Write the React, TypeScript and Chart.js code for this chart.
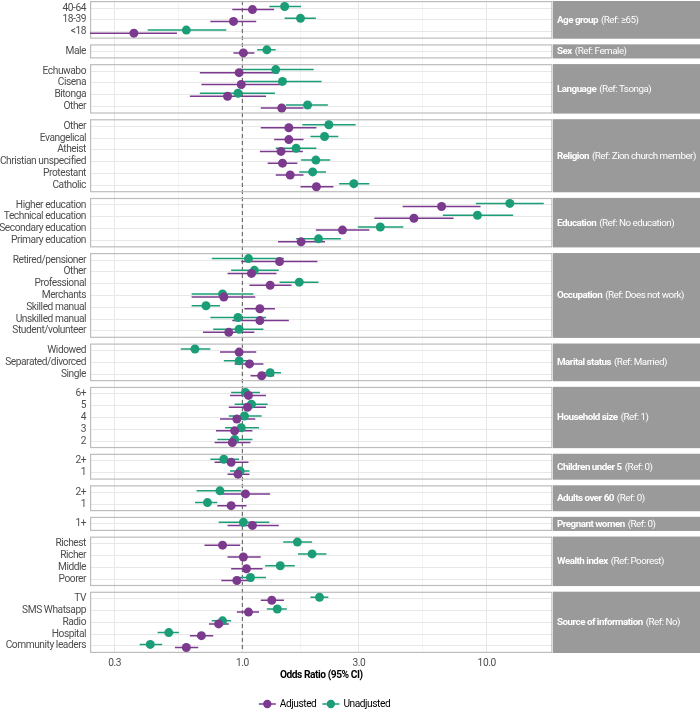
import React, { useEffect, useRef } from 'react';
import { Chart, registerables } from 'chart.js';

Chart.register(...registerables);

// ---------- data ----------
const groupNames = ['Age group', 'Sex', 'Language', 'Religion', 'Education', 'Occupation', 'Marital status', 'Household size', 'Children under 5', 'Adults over 60', 'Pregnant women', 'Wealth index', 'Source of information'];
const groupRefs = ['(Ref: ≥65)', '(Ref: Female)', '(Ref: Tsonga)', '(Ref: Zion church member)', '(Ref: No education)', '(Ref: Does not work)', '(Ref: Married)', '(Ref: 1)', '(Ref: 0)', '(Ref: 0)', '(Ref: 0)', '(Ref: Poorest)', '(Ref: No)'];
const groupSizes = [3, 1, 4, 6, 4, 7, 3, 5, 2, 2, 1, 4, 5];

const rowLabels = [
  '40-64', '18-39', '<18',
  'Male',
  'Echuwabo', 'Cisena', 'Bitonga', 'Other',
  'Other', 'Evangelical', 'Atheist', 'Christian unspecified', 'Protestant', 'Catholic',
  'Higher education', 'Technical education', 'Secondary education', 'Primary education',
  'Retired/pensioner', 'Other', 'Professional', 'Merchants', 'Skilled manual', 'Unskilled manual', 'Student/volunteer',
  'Widowed', 'Separated/divorced', 'Single',
  '6+', '5', '4', '3', '2',
  '2+', '1',
  '2+', '1',
  '1+',
  'Richest', 'Richer', 'Middle', 'Poorer',
  'TV', 'SMS Whatsapp', 'Radio', 'Hospital', 'Community leaders',
];

const adjOR = [1.10, 0.92, 0.36, 1.01, 0.97, 0.99, 0.87, 1.45, 1.55, 1.55, 1.44, 1.46, 1.57, 2.01, 6.54, 5.04, 2.57, 1.74, 1.42, 1.09, 1.30, 0.84, 1.18, 1.18, 0.88, 0.97, 1.07, 1.20, 1.06, 1.05, 0.95, 0.93, 0.91, 0.90, 0.96, 1.03, 0.90, 1.10, 0.83, 1.01, 1.04, 0.95, 1.32, 1.06, 0.80, 0.68, 0.59];
const adjLo = [0.91, 0.74, 0.20, 0.92, 0.67, 0.68, 0.61, 1.19, 1.19, 1.35, 1.18, 1.27, 1.37, 1.73, 4.53, 3.47, 2.00, 1.40, 0.99, 0.87, 1.07, 0.62, 1.02, 0.91, 0.69, 0.81, 0.93, 1.08, 0.89, 0.88, 0.81, 0.78, 0.77, 0.77, 0.87, 0.82, 0.79, 0.87, 0.70, 0.87, 0.90, 0.82, 1.19, 0.95, 0.73, 0.61, 0.53];
const adjHi = [1.35, 1.14, 0.54, 1.12, 1.41, 1.46, 1.25, 1.78, 2.01, 1.78, 1.77, 1.68, 1.78, 2.36, 9.44, 7.32, 3.31, 2.18, 2.03, 1.38, 1.59, 1.13, 1.36, 1.55, 1.12, 1.14, 1.22, 1.35, 1.25, 1.25, 1.13, 1.10, 1.08, 1.06, 1.07, 1.30, 1.04, 1.41, 0.98, 1.19, 1.21, 1.11, 1.48, 1.17, 0.88, 0.76, 0.66];

const unadjOR = [1.49, 1.73, 0.59, 1.26, 1.37, 1.46, 0.96, 1.85, 2.26, 2.17, 1.66, 2.00, 1.94, 2.86, 12.44, 9.17, 3.67, 2.05, 1.06, 1.12, 1.71, 0.83, 0.71, 0.96, 0.97, 0.64, 0.97, 1.30, 1.03, 1.09, 1.02, 0.99, 0.93, 0.84, 0.98, 0.81, 0.72, 1.01, 1.68, 1.93, 1.43, 1.08, 2.07, 1.39, 0.83, 0.50, 0.42];
const unadjLo = [1.29, 1.49, 0.41, 1.15, 0.98, 1.02, 0.67, 1.51, 1.76, 1.90, 1.37, 1.74, 1.71, 2.49, 9.03, 6.62, 2.97, 1.66, 0.75, 0.90, 1.42, 0.62, 0.62, 0.74, 0.76, 0.56, 0.84, 1.17, 0.90, 0.93, 0.88, 0.85, 0.79, 0.74, 0.89, 0.65, 0.64, 0.80, 1.47, 1.69, 1.24, 0.93, 1.90, 1.26, 0.75, 0.45, 0.38];
const unadjHi = [1.74, 2.00, 0.86, 1.37, 1.96, 2.11, 1.36, 2.24, 2.91, 2.47, 2.01, 2.29, 2.20, 3.31, 17.13, 12.84, 4.56, 2.53, 1.48, 1.41, 2.05, 1.11, 0.81, 1.25, 1.22, 0.74, 1.10, 1.44, 1.18, 1.27, 1.20, 1.17, 1.10, 0.97, 1.07, 0.99, 0.79, 1.29, 1.93, 2.21, 1.64, 1.25, 2.25, 1.52, 0.90, 0.55, 0.47];

const majorTicks = [0.3, 1, 3, 10];
const minorTicks = [0.5477, 1.7321, 5.4772];
const seriesNames = ['Adjusted', 'Unadjusted'];

// ---------- style ----------
const PURPLE = '#7B3A8E';
const GREEN = '#1B9E77';
const FS = 10.2;
const LS = '-0.45px';
const STRIP_FS = 9.8;
const STRIP_LS = '-0.5px';
const FONT = 'Roboto';

// ---------- facet layout (in row units) ----------
const EXP = 0.6;
const GAP = 0.475;
const DODGE = 0.13;
const panelTop: number[] = [];
const panelBottom: number[] = [];
const rowPos: number[] = [];
let cursor = 0;
groupSizes.forEach((n) => {
  panelTop.push(cursor);
  for (let i = 0; i < n; i++) rowPos.push(cursor + EXP + i);
  const b = cursor + (n - 1) + 2 * EXP;
  panelBottom.push(b);
  cursor = b + GAP;
});
const yMax = cursor - GAP;

function ciData(lo: number[], hi: number[], off: number) {
  const out: { x: number; y: number }[] = [];
  lo.forEach((l, i) => {
    out.push({ x: l, y: rowPos[i] + off });
    out.push({ x: hi[i], y: rowPos[i] + off });
    out.push({ x: NaN, y: NaN });
  });
  return out;
}
function ptData(v: number[], off: number) {
  return v.map((x, i) => ({ x, y: rowPos[i] + off }));
}

const forestPlugin = {
  id: 'forest',
  beforeLayout(chart: any) {
    chart.ctx.letterSpacing = LS;
  },
  beforeDraw(chart: any) {
    chart.ctx.letterSpacing = LS;
  },
  beforeDatasetsDraw(chart: any) {
    const { ctx, chartArea: ca, scales } = chart;
    const ys = scales.y;
    const xs = scales.x;
    ctx.save();
    // reference line
    const x1 = xs.getPixelForValue(1);
    ctx.strokeStyle = '#555555';
    ctx.lineWidth = 1;
    ctx.setLineDash([4, 3]);
    ctx.beginPath();
    ctx.moveTo(x1, ca.top);
    ctx.lineTo(x1, ca.bottom);
    ctx.stroke();
    ctx.setLineDash([]);
    groupNames.forEach((name, g) => {
      const top = ys.getPixelForValue(panelTop[g]);
      const bot = ys.getPixelForValue(panelBottom[g]);
      ctx.strokeStyle = '#BDBDBD';
      ctx.lineWidth = 1.2;
      ctx.strokeRect(ca.left + 0.6, top + 0.6, ca.right - ca.left - 1.2, bot - top - 1.2);
      ctx.fillStyle = '#9A9A9A';
      ctx.fillRect(ca.right + 0.5, top, chart.width - ca.right - 0.5, bot - top);
      const cy = (top + bot) / 2 + 0.5;
      ctx.textBaseline = 'middle';
      ctx.textAlign = 'left';
      ctx.fillStyle = '#FFFFFF';
      ctx.letterSpacing = STRIP_LS;
      ctx.font = `bold ${STRIP_FS}px ${FONT}`;
      const sx = ca.right + 4.5;
      ctx.fillText(name, sx, cy);
      const w = ctx.measureText(name).width;
      ctx.font = `${STRIP_FS}px ${FONT}`;
      ctx.fillText(groupRefs[g], sx + w + 3, cy);
    });
    ctx.restore();
  },
  afterDraw(chart: any) {
    const { ctx } = chart;
    ctx.save();
    ctx.letterSpacing = LS;
    ctx.font = `${FS}px ${FONT}`;
    ctx.textBaseline = 'middle';
    ctx.textAlign = 'left';
    const colors = [PURPLE, GREEN];
    const keyW = 17;
    const tgap = 4;
    const igap = 6;
    const widths = seriesNames.map((s) => ctx.measureText(s).width);
    const total = widths.reduce((a, w) => a + keyW + tgap + w, 0) + igap;
    let x = 324.5 - total / 2;
    const y = 704;
    seriesNames.forEach((s, i) => {
      ctx.strokeStyle = colors[i];
      ctx.lineWidth = 1.5;
      ctx.beginPath();
      ctx.moveTo(x, y);
      ctx.lineTo(x + keyW, y);
      ctx.stroke();
      ctx.fillStyle = colors[i];
      ctx.beginPath();
      ctx.arc(x + keyW / 2, y, 4.2, 0, Math.PI * 2);
      ctx.fill();
      ctx.fillStyle = '#000000';
      ctx.fillText(s, x + keyW + tgap, y + 0.5);
      x += keyW + tgap + widths[i] + igap;
    });
    ctx.restore();
  },
};

export default function App() {
  const ref = useRef<HTMLCanvasElement | null>(null);
  useEffect(() => {
    if (!ref.current) return;
    Chart.defaults.font.family = FONT;
    const chart = new Chart(ref.current, {
      type: 'scatter',
      data: {
        datasets: [
          { label: 'Adjusted', data: ptData(adjOR, DODGE), backgroundColor: PURPLE, borderWidth: 0, pointRadius: 4.5, pointHoverRadius: 4.5 },
          { label: 'Unadjusted', data: ptData(unadjOR, -DODGE), backgroundColor: GREEN, borderWidth: 0, pointRadius: 4.5, pointHoverRadius: 4.5 },
          { label: 'Adjusted CI', data: ciData(adjLo, adjHi, DODGE), showLine: true, spanGaps: false, borderColor: PURPLE, borderWidth: 1.5, pointRadius: 0, tension: 0 },
          { label: 'Unadjusted CI', data: ciData(unadjLo, unadjHi, -DODGE), showLine: true, spanGaps: false, borderColor: GREEN, borderWidth: 1.5, pointRadius: 0, tension: 0 },
        ] as any,
      },
      options: {
        animation: false,
        responsive: false,
        devicePixelRatio: 1,
        layout: { autoPadding: false, padding: { left: 0, right: 147.5, top: 1, bottom: 28 } },
        plugins: { legend: { display: false }, tooltip: { enabled: false } },
        events: [],
        scales: {
          x: {
            type: 'logarithmic',
            min: 0.238,
            max: 18.6,
            afterBuildTicks: (scale: any) => {
              scale.ticks = [...majorTicks, ...minorTicks].sort((a, b) => a - b).map((v) => ({ value: v }));
            },
            afterFit: (scale: any) => {
              scale.height = 29;
              scale.paddingLeft = 0;
              scale.paddingRight = 0;
              scale.paddingTop = 0;
              scale.paddingBottom = 0;
            },
            border: { display: false },
            grid: {
              drawTicks: false,
              color: (c: any) => (majorTicks.includes(c.tick?.value) ? '#E6E6E6' : '#F1F1F1'),
              lineWidth: (c: any) => (majorTicks.includes(c.tick?.value) ? 1 : 0.8),
            },
            ticks: {
              autoSkip: false,
              maxRotation: 0,
              padding: 4,
              color: '#4D4D4D',
              font: { size: FS, family: FONT },
              callback: (v: any) => (majorTicks.includes(Number(v)) ? Number(v).toFixed(1) : ''),
            },
            title: {
              display: true,
              text: 'Odds Ratio (95% CI)',
              color: '#000000',
              font: { size: FS, weight: 'bold', family: FONT },
              padding: { top: 0, bottom: 0 },
            },
          },
          y: {
            type: 'linear',
            reverse: true,
            min: 0,
            max: yMax,
            afterBuildTicks: (scale: any) => {
              scale.ticks = rowPos.map((v) => ({ value: v }));
            },
            afterFit: (scale: any) => {
              scale.width = 90;
              scale.paddingTop = 0;
              scale.paddingBottom = 0;
              scale.paddingLeft = 0;
              scale.paddingRight = 0;
            },
            border: { display: false },
            grid: { drawTicks: false, color: '#E8E8E8', lineWidth: 1 },
            ticks: {
              autoSkip: false,
              padding: 4,
              color: '#4D4D4D',
              font: { size: FS, family: FONT },
              callback: (_v: any, i: number) => rowLabels[i],
            },
          },
        },
      } as any,
      plugins: [forestPlugin as any],
    });
    return () => chart.destroy();
  }, []);
  return (
    <div style={{ position: 'fixed', left: 0, top: 0, width: 700, height: 710, background: '#fff' }}>
      <canvas ref={ref} width={700} height={710} style={{ display: 'block' }} />
    </div>
  );
}
